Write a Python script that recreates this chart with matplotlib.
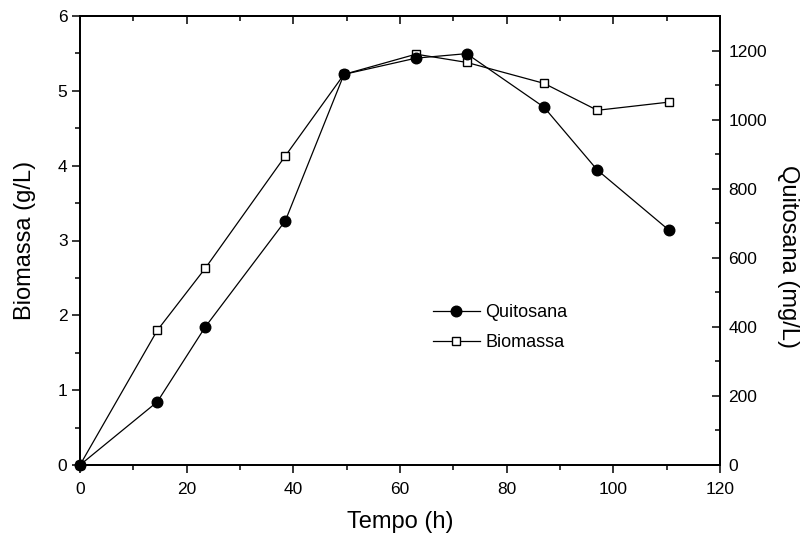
import matplotlib
matplotlib.use('Agg')
import matplotlib.pyplot as plt
from matplotlib.ticker import MultipleLocator
from matplotlib.lines import Line2D

plt.rcParams['font.family'] = ['Liberation Sans', 'DejaVu Sans']

# Sampling times and measured values
tempo_h = [0, 14.5, 23.5, 38.5, 49.5, 63, 72.5, 87, 97, 110.5]
biomassa_gL = [0, 1.80, 2.63, 4.13, 5.22, 5.49, 5.38, 5.10, 4.74, 4.85]
quitosana_mgL = [0, 183, 400, 707, 1131, 1178, 1191, 1036, 854, 679]

x_label = "Tempo (h)"
y_left_label = "Biomassa (g/L)"
y_right_label = "Quitosana (mg/L)"

W, H = 806, 539
fig = plt.figure(figsize=(W / 100, H / 100), dpi=100)
ax = fig.add_axes([80 / W, 74 / H, 640 / W, 449 / H])
ax2 = ax.twinx()

lw_spine = 1.3
for a in (ax, ax2):
    for s in a.spines.values():
        s.set_linewidth(lw_spine)

sq_ms, ci_ms = 6.2, 7.6

# Biomass on the left axis (open squares)
ax.plot(tempo_h, biomassa_gL, color='black', lw=0.9, marker='s', ms=sq_ms,
        mfc='white', mec='black', mew=1.0, zorder=3, clip_on=False)
# Chitosan on the right axis (filled circles)
ax2.plot(tempo_h, quitosana_mgL, color='black', lw=0.9, marker='o', ms=ci_ms,
         mfc='black', mec='black', zorder=3, clip_on=False)

ax.set_xlim(0, 120)
ax.set_ylim(0, 6)
ax2.set_ylim(0, 1300)

ax.xaxis.set_major_locator(MultipleLocator(20))
ax.xaxis.set_minor_locator(MultipleLocator(10))
ax.yaxis.set_major_locator(MultipleLocator(1))
ax.yaxis.set_minor_locator(MultipleLocator(0.5))
ax2.yaxis.set_major_locator(MultipleLocator(200))
ax2.yaxis.set_minor_locator(MultipleLocator(100))

tick_fs = 12.5
ax.tick_params(axis='both', which='major', direction='out', length=6, width=1.1,
               labelsize=tick_fs)
ax.tick_params(axis='x', which='major', pad=6)
ax.tick_params(axis='y', which='major', pad=3)
ax.tick_params(axis='both', which='minor', direction='out', length=3.5, width=1.1)
ax.tick_params(axis='x', top=False)
ax.tick_params(axis='y', right=False)
ax2.tick_params(axis='y', which='major', direction='in', length=6, width=1.1,
                labelsize=tick_fs, pad=6)
ax2.tick_params(axis='y', which='minor', direction='in', length=3.5, width=1.1)

# Inward ticks along the top edge
top = ax.secondary_xaxis('top')
top.xaxis.set_major_locator(MultipleLocator(20))
top.xaxis.set_minor_locator(MultipleLocator(10))
top.tick_params(which='major', direction='in', length=6, width=1.1, labeltop=False)
top.tick_params(which='minor', direction='in', length=3.5, width=1.1)
top.spines['top'].set_linewidth(lw_spine)

label_fs = 17
ax.set_xlabel(x_label, fontsize=label_fs, labelpad=10)
ax.set_ylabel(y_left_label, fontsize=label_fs, labelpad=16)
ax2.set_ylabel(y_right_label, fontsize=label_fs, rotation=270, va='center')
ax2.yaxis.set_label_coords(1.107, 0.465)

handles = [
    Line2D([], [], color='black', lw=0.9, marker='o', ms=ci_ms, mfc='black', mec='black'),
    Line2D([], [], color='black', lw=0.9, marker='s', ms=sq_ms, mfc='white', mec='black'),
]
ax2.legend(handles, ['Quitosana', 'Biomassa'], loc='upper left',
           bbox_to_anchor=(0.54, 0.375), frameon=False, fontsize=13,
           handlelength=2.6, handletextpad=0.3, labelspacing=0.75,
           borderaxespad=0)

fig.savefig('out.png', dpi=100)
